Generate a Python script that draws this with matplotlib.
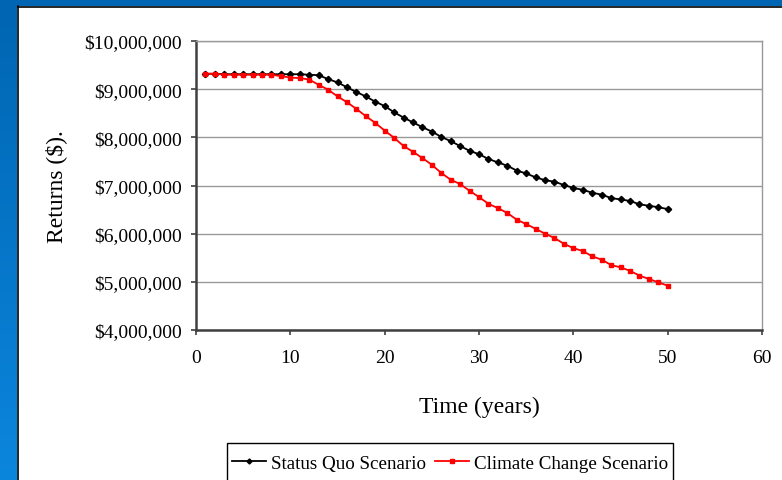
import matplotlib
matplotlib.use("Agg")
import matplotlib.pyplot as plt
import numpy as np
from matplotlib.patches import Rectangle
from matplotlib.lines import Line2D
from matplotlib.colors import LinearSegmentedColormap

years = list(range(1, 51))
status_quo = [9.32, 9.32, 9.31, 9.31, 9.31, 9.31, 9.31, 9.31, 9.31, 9.31,
              9.31, 9.30, 9.29, 9.21, 9.14, 9.04, 8.94, 8.85, 8.74, 8.65,
              8.52, 8.41, 8.31, 8.21, 8.12, 8.01, 7.92, 7.82, 7.72, 7.65,
              7.55, 7.48, 7.41, 7.31, 7.25, 7.17, 7.11, 7.08, 7.01, 6.95,
              6.91, 6.85, 6.81, 6.74, 6.71, 6.68, 6.61, 6.58, 6.55, 6.51]
climate_change = [9.32, 9.32, 9.30, 9.30, 9.30, 9.30, 9.30, 9.30, 9.27, 9.24,
                  9.23, 9.20, 9.09, 8.99, 8.85, 8.73, 8.59, 8.44, 8.30, 8.14,
                  7.99, 7.82, 7.70, 7.57, 7.43, 7.26, 7.12, 7.03, 6.89, 6.76,
                  6.62, 6.53, 6.43, 6.29, 6.20, 6.10, 6.00, 5.91, 5.79, 5.70,
                  5.64, 5.53, 5.46, 5.35, 5.30, 5.23, 5.13, 5.06, 4.99, 4.92]
status_quo = [v * 1e6 for v in status_quo]
climate_change = [v * 1e6 for v in climate_change]

y_ticks = [4e6, 5e6, 6e6, 7e6, 8e6, 9e6, 10e6]
y_labels = ["$4,000,000", "$5,000,000", "$6,000,000", "$7,000,000",
            "$8,000,000", "$9,000,000", "$10,000,000"]
x_ticks = [0, 10, 20, 30, 40, 50, 60]
series_labels = ["Status Quo Scenario", "Climate Change Scenario"]

plt.rcParams['font.family'] = ['Liberation Serif', 'DejaVu Serif']

W, H = 782, 481
fig = plt.figure(figsize=(W / 100, H / 100), dpi=100)
fig.patch.set_facecolor('white')

# blue frame (left and top)
grad = np.linspace(0, 1, 256).reshape(-1, 1)
cmap = LinearSegmentedColormap.from_list('b', ['#0065B2', '#0B86DD'])
bax = fig.add_axes([0, 0, 17 / W, 1])
bax.imshow(grad, aspect='auto', cmap=cmap, extent=[0, 1, 0, 1], origin='upper')
bax.axis('off')
fig.add_artist(Rectangle((0, 1 - 7 / H), 1, 7 / H, transform=fig.transFigure,
                         facecolor='#0065B2', edgecolor='none', zorder=1))
fig.add_artist(Line2D([17.5 / W, 17.5 / W], [0, 1 - 7 / H], transform=fig.transFigure,
                      color='black', lw=1.2, zorder=2))
fig.add_artist(Line2D([17.5 / W, 1], [1 - 7.5 / H, 1 - 7.5 / H], transform=fig.transFigure,
                      color='black', lw=1.2, zorder=2))

ax = fig.add_axes([196 / W, 1 - 331 / H, (762 - 196) / W, (331 - 42) / H])
ax.plot(years, status_quo, color='black', lw=1.3, marker='D', markersize=3.2,
        label=series_labels[0], zorder=3)
ax.plot(years, climate_change, color='#FF0000', lw=1.3, marker='s', markersize=2.9,
        label=series_labels[1], zorder=3)

ax.set_xlim(0, 60)
ax.set_ylim(4e6, 10e6)
ax.set_xticks(x_ticks)
ax.set_xticklabels([str(t) for t in x_ticks], fontsize=14)
ax.set_yticks(y_ticks)
ax.set_yticklabels(y_labels, fontsize=14)
ax.grid(axis='y', color='#999999', lw=1)
ax.set_axisbelow(True)
for s in ['top', 'right']:
    ax.spines[s].set_color('#999999')
    ax.spines[s].set_linewidth(1)
for s in ['left', 'bottom']:
    ax.spines[s].set_color('#404040')
    ax.spines[s].set_linewidth(1.8)
ax.tick_params(axis='both', direction='out', length=3.6, width=1.2, color='#404040')
ax.tick_params(axis='y', pad=6.5)
ax.tick_params(axis='x', pad=10)

fig.text(479 / W, 1 - 407 / H, "Time (years)", fontsize=17, ha='center', va='center')
fig.text(56 / W, 1 - 187 / H, "Returns ($).", fontsize=17, ha='center', va='center',
         rotation=90)

# legend
fig.add_artist(Rectangle((227 / W, -0.05), (673 - 227) / W, 1 - 444 / H + 0.05,
                         transform=fig.transFigure, facecolor='white',
                         edgecolor='black', lw=1, zorder=2))
handles, labels = ax.get_legend_handles_labels()
leg = fig.legend(handles, labels, loc='center', bbox_to_anchor=(450 / W, 1 - 464 / H),
                 ncol=2, frameon=False, fontsize=13.7, handlelength=1.8,
                 columnspacing=0.5, handletextpad=0.25, markerscale=0.8)
leg.set_zorder(5)

fig.savefig('out.png', dpi=100)
